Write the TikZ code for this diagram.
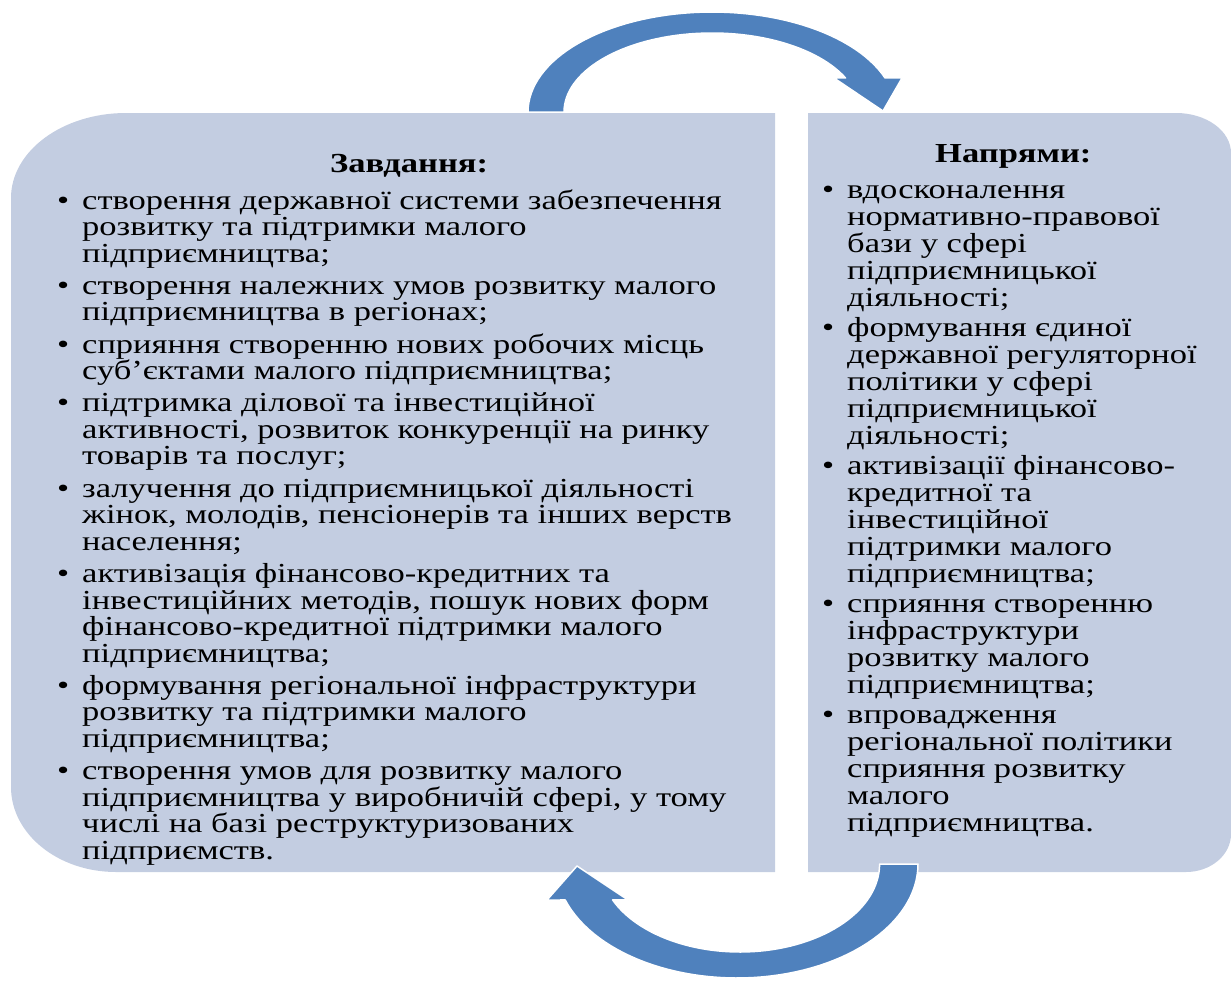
\documentclass[tikz,border=0pt]{standalone}
\usepackage{fontspec}
\setmainfont{Liberation Serif}[FakeStretch=1.255]
\definecolor{boxfill}{RGB}{195,205,225}
\definecolor{arrowblue}{RGB}{79,129,189}
\begin{document}
\begin{tikzpicture}[x=1pt,y=-1pt,
  txt/.style={anchor=base west, inner sep=0pt, font=\fontsize{27.5}{26.5}\selectfont, text=black},
  bul/.style={txt},
  ttl/.style={anchor=base west, inner sep=0pt, font=\fontsize{27.5}{26.5}\selectfont\bfseries, text=black},
  panel/.style={fill=boxfill},
  curvearrow/.style={fill=arrowblue, draw=white, line width=1.5pt, line join=round}]
\useasboundingbox (0,0) rectangle (1231,980);
% panels
\fill[panel] (126,113) -- (775,113) -- (775,872) -- (116,872)
  arc[start angle=270, end angle=180, x radius=105pt, y radius=85pt] -- (11,198)
  arc[start angle=180, end angle=90, x radius=115pt, y radius=85pt] -- cycle;
\fill[panel] (808,113) -- (1176,113)
  arc[start angle=90, end angle=0, x radius=55pt, y radius=40pt] -- (1231,834)
  arc[start angle=0, end angle=-90, x radius=45pt, y radius=38pt] -- (808,872) -- cycle;
% arrows
\filldraw[curvearrow] plot[domain=180:340.1, samples=60, variable=\t] ({712+184*cos(\t)},{112+100*sin(\t)})
  -- (902,78) -- (883,111) -- (834,78)
  -- plot[domain=334.5:180, samples=60, variable=\t] ({712+148*cos(\t)},{112+79*sin(\t)}) -- cycle;
\filldraw[curvearrow] plot[domain=0:161.6, samples=60, variable=\t] ({737+181*cos(\t)},{864+114*sin(\t)})
  -- (547,900) -- (577,866) -- (628,900)
  -- plot[domain=155.9:0, samples=60, variable=\t] ({740+139.6*cos(\t)},{864+88*sin(\t)}) -- cycle;
% titles
\node[ttl] (tl) at (330,172) {Завдання:};
\node[ttl] (tr) at (935,162) {Напрями:};
% left bullets
\node[bul] (lb1) at (57,209.0) {\textbullet};
\node[bul] (lb2) at (57,294.3) {\textbullet};
\node[bul] (lb3) at (57,353.1) {\textbullet};
\node[bul] (lb4) at (57,411.9) {\textbullet};
\node[bul] (lb5) at (57,497.2) {\textbullet};
\node[bul] (lb6) at (57,582.5) {\textbullet};
\node[bul] (lb7) at (57,694.3) {\textbullet};
\node[bul] (lb8) at (57,779.6) {\textbullet};
% left text
\node[txt] (l1) at (82,209.0) {створення державної системи забезпечення};
\node[txt] (l2) at (82,235.5) {розвитку та підтримки малого};
\node[txt] (l3) at (82,262.0) {підприємництва;};
\node[txt] (l4) at (82,294.3) {створення належних умов розвитку малого};
\node[txt] (l5) at (82,320.8) {підприємництва в регіонах;};
\node[txt] (l6) at (82,353.1) {сприяння створенню нових робочих місць};
\node[txt] (l7) at (82,379.6) {суб’єктами малого підприємництва;};
\node[txt] (l8) at (82,411.9) {підтримка ділової та інвестиційної};
\node[txt] (l9) at (82,438.4) {активності, розвиток конкуренції на ринку};
\node[txt] (l10) at (82,464.9) {товарів та послуг;};
\node[txt] (l11) at (82,497.2) {залучення до підприємницької діяльності};
\node[txt] (l12) at (82,523.7) {жінок, молодів, пенсіонерів та інших верств};
\node[txt] (l13) at (82,550.2) {населення;};
\node[txt] (l14) at (82,582.5) {активізація фінансово-кредитних та};
\node[txt] (l15) at (82,609.0) {інвестиційних методів, пошук нових форм};
\node[txt] (l16) at (82,635.5) {фінансово-кредитної підтримки малого};
\node[txt] (l17) at (82,662.0) {підприємництва;};
\node[txt] (l18) at (82,694.3) {формування регіональної інфраструктури};
\node[txt] (l19) at (82,720.8) {розвитку та підтримки малого};
\node[txt] (l20) at (82,747.3) {підприємництва;};
\node[txt] (l21) at (82,779.6) {створення умов для розвитку малого};
\node[txt] (l22) at (82,806.1) {підприємництва у виробничій сфері, у тому};
\node[txt] (l23) at (82,832.6) {числі на базі реструктуризованих};
\node[txt] (l24) at (82,859.1) {підприємств.};
% right bullets
\node[bul] (rb1) at (822,198) {\textbullet};
\node[bul] (rb2) at (822,336) {\textbullet};
\node[bul] (rb3) at (822,474) {\textbullet};
\node[bul] (rb4) at (822,612) {\textbullet};
\node[bul] (rb5) at (822,723) {\textbullet};
% right text
\node[txt] (r1) at (847,198) {вдосконалення};
\node[txt] (r2) at (847,225) {нормативно-правової};
\node[txt] (r3) at (847,252) {бази у сфері};
\node[txt] (r4) at (847,279) {підприємницької};
\node[txt] (r5) at (847,306) {діяльності;};
\node[txt] (r6) at (847,336) {формування єдиної};
\node[txt] (r7) at (847,363) {державної регуляторної};
\node[txt] (r8) at (847,390) {політики у сфері};
\node[txt] (r9) at (847,417) {підприємницької};
\node[txt] (r10) at (847,444) {діяльності;};
\node[txt] (r11) at (847,474) {активізації фінансово-};
\node[txt] (r12) at (847,501) {кредитної та};
\node[txt] (r13) at (847,528) {інвестиційної};
\node[txt] (r14) at (847,555) {підтримки малого};
\node[txt] (r15) at (847,582) {підприємництва;};
\node[txt] (r16) at (847,612) {сприяння створенню};
\node[txt] (r17) at (847,639) {інфраструктури};
\node[txt] (r18) at (847,666) {розвитку малого};
\node[txt] (r19) at (847,693) {підприємництва;};
\node[txt] (r20) at (847,723) {впровадження};
\node[txt] (r21) at (847,750) {регіональної політики};
\node[txt] (r22) at (847,777) {сприяння розвитку};
\node[txt] (r23) at (847,804) {малого};
\node[txt] (r24) at (847,831) {підприємництва.};
\end{tikzpicture}
\end{document}
